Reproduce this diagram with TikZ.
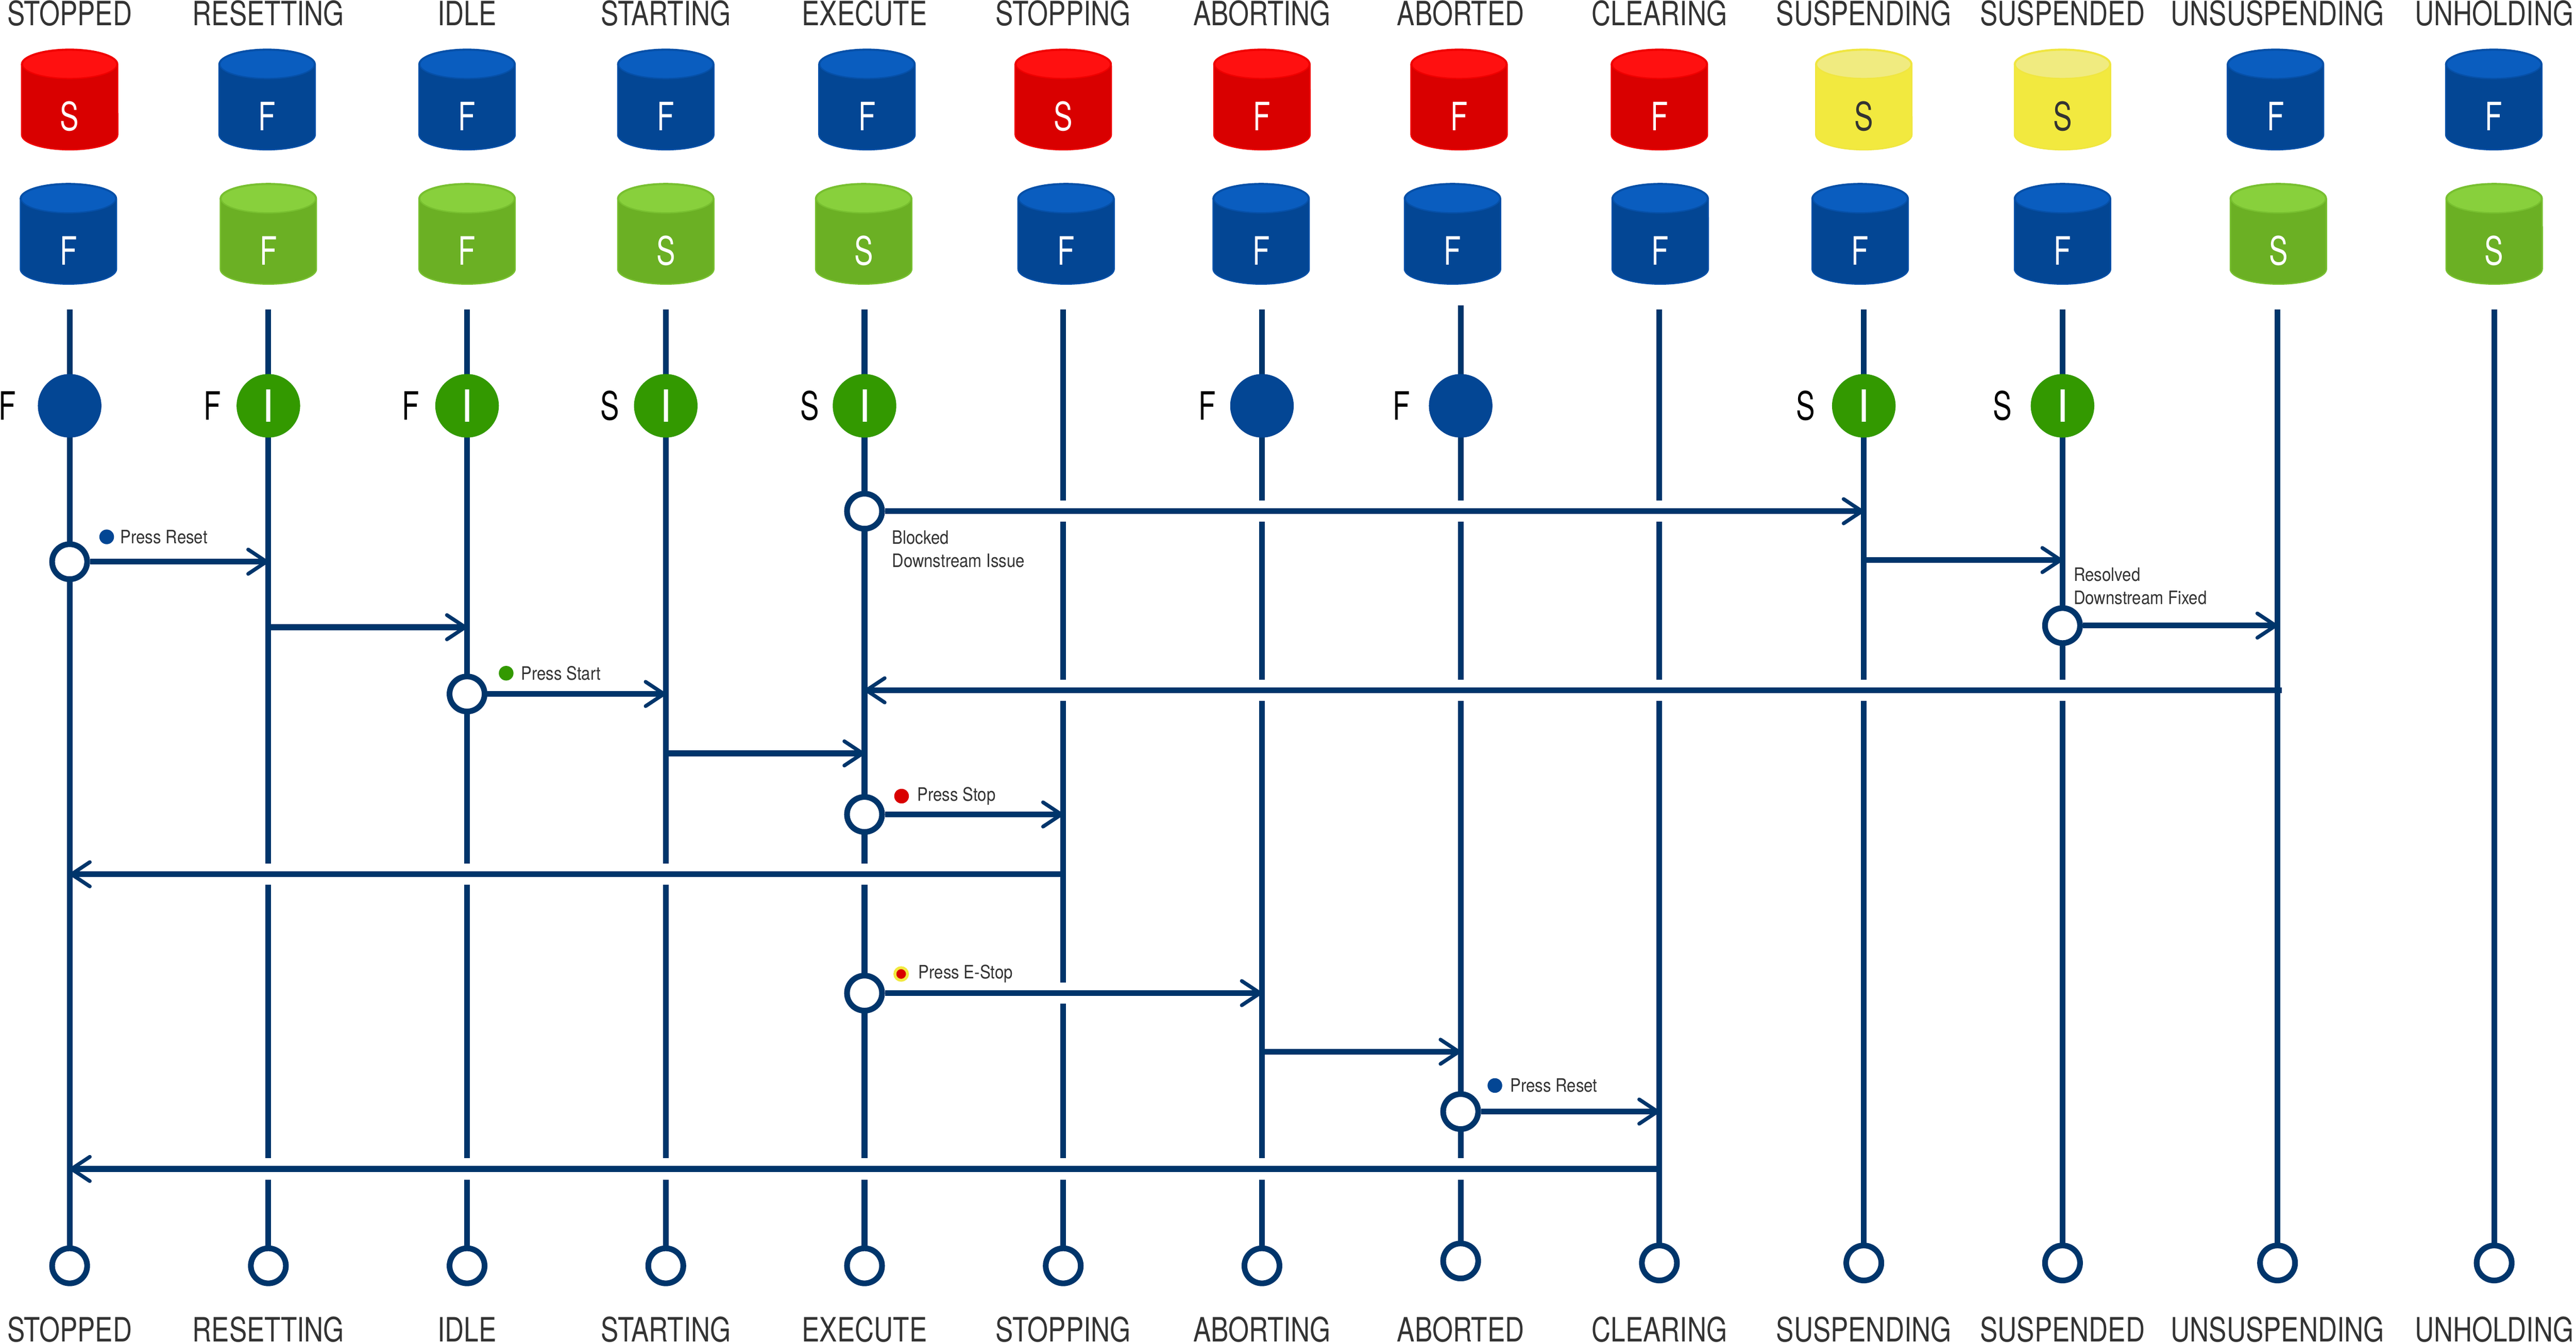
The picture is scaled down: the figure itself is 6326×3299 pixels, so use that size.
\documentclass[tikz,border=0pt]{standalone}
\usepackage{fontspec}
\usetikzlibrary{arrows.meta}
\setmainfont{TeX Gyre Heros}
\newfontfamily\labfont[FakeStretch=0.79]{TeX Gyre Heros}
\newfontfamily\letfont[FakeStretch=0.72]{TeX Gyre Heros}
\newfontfamily\notefont[FakeStretch=0.87]{TeX Gyre Heros}
\definecolor{navy}{HTML}{00356B}
\definecolor{txt}{HTML}{333333}
\definecolor{stateblue}{HTML}{034694}
\definecolor{stategreen}{HTML}{339900}
\definecolor{dotred}{HTML}{D90000}
\definecolor{doty}{HTML}{F2E93F}
\definecolor{bluBody}{HTML}{034694}\definecolor{bluTop}{HTML}{0A5DBF}\definecolor{bluEdge}{HTML}{0650A8}
\definecolor{redBody}{HTML}{D90000}\definecolor{redTop}{HTML}{FF1010}\definecolor{redEdge}{HTML}{F00000}
\definecolor{grnBody}{HTML}{6BB024}\definecolor{grnTop}{HTML}{88D03C}\definecolor{grnEdge}{HTML}{78C030}
\definecolor{yelBody}{HTML}{F2E93F}\definecolor{yelTop}{HTML}{F0EB80}\definecolor{yelEdge}{HTML}{F0E640}
\pgfdeclarelayer{lines}
\pgfsetlayers{lines,main}
\tikzset{
  statelabel/.style={font=\labfont\fontsize{23.4}{26}\selectfont,text=txt,inner sep=0pt,anchor=base},
  cylletter/.style={font=\letfont\fontsize{27.3}{30}\selectfont,inner sep=0pt,anchor=base},
  sideletter/.style={font=\letfont\fontsize{27.3}{30}\selectfont,text=black,inner sep=0pt,anchor=base},
  statedot/.style={circle,inner sep=0pt,minimum size=1.56cm,text=white,font=\fontsize{31}{34}\selectfont},
  ring/.style={circle,draw=navy,fill=white,line width=1.4mm,inner sep=0pt,minimum size=.86cm},
  life/.style={draw=navy,line width=1.4mm},
  halo/.style={draw=white,line width=5.2mm,shorten <=3mm,shorten >=3mm},
  flow/.style={draw=navy,line width=1.4mm,-{Straight Barb[length=12.8pt,width=17pt,line width=2.6pt,round]}},
  note/.style={font=\notefont\fontsize{12.9}{16.5}\selectfont,text=txt,inner sep=0pt,anchor=west,align=left},
  btn/.style={circle,inner sep=0pt,minimum size=.36cm}
}
\newcommand{\Cyl}[6]{%
  \begin{scope}[shift={(#2,#3)}]
    \path[draw=#4Edge,fill=#4Body,line width=.9pt] (-118,37) -- (-118,210)
      arc[x radius=1.18cm,y radius=.37cm,start angle=180,end angle=360] -- (118,37)
      arc[x radius=1.18cm,y radius=.37cm,start angle=0,end angle=180] -- cycle;
    \path[draw=#4Edge,fill=#4Top,line width=.9pt] (0,37) ellipse[x radius=1.16cm,y radius=.35cm];
    \node[cylletter,text=#6] (#1) at (0,200) {#5};
  \end{scope}}
\newcommand{\Flow}[2]{\draw[halo] (#1) -- (#2); \draw[flow] (#1) -- (#2);}
\begin{document}
\begin{tikzpicture}[x=0.01cm,y=-0.01cm]
\useasboundingbox (0,0) rectangle (6326,3299);
\begin{pgfonlayer}{lines}
\fill[white] (0,0) rectangle (6326,3299);
\end{pgfonlayer}

% header and footer labels, lifeline tops and bottom rings
\foreach \n/\x/\yt/\yb/\t in {1/171/760/3110/STOPPED,2/659/760/3110/RESETTING,3/1147/760/3110/IDLE,4/1635/760/3110/STARTING,5/2123/760/3110/EXECUTE,6/2611/760/3110/STOPPING,7/3099/760/3110/ABORTING,8/3587/750/3098/ABORTED,9/4075/760/3103/CLEARING,10/4577/760/3103/SUSPENDING,11/5065/760/3103/SUSPENDED,12/5593/760/3103/UNSUSPENDING,13/6125/760/3103/UNHOLDING}{
  \node[statelabel] (head\n) at (\x,62) {\t};
  \node[statelabel] (foot\n) at (\x,3296) {\t};
  \coordinate (top\n) at (\x,\yt);
  \node[ring] (end\n) at (\x,\yb) {};
  \begin{pgfonlayer}{lines}
    \draw[life] (top\n) -- (end\n.center);
  \end{pgfonlayer}
}

% top row of cylinders
\Cyl{ca1}{171}{121}{red}{S}{white}
\Cyl{ca2}{656}{121}{blu}{F}{white}
\Cyl{ca3}{1147}{121}{blu}{F}{white}
\Cyl{ca4}{1635}{121}{blu}{F}{white}
\Cyl{ca5}{2129}{121}{blu}{F}{white}
\Cyl{ca6}{2611}{121}{red}{S}{white}
\Cyl{ca7}{3099}{121}{red}{F}{white}
\Cyl{ca8}{3583}{121}{red}{F}{white}
\Cyl{ca9}{4075}{121}{red}{F}{white}
\Cyl{ca10}{4577}{121}{yel}{S}{txt}
\Cyl{ca11}{5065}{121}{yel}{S}{txt}
\Cyl{ca12}{5588}{121}{blu}{F}{white}
\Cyl{ca13}{6124}{121}{blu}{F}{white}
% second row of cylinders
\Cyl{cb1}{168}{451}{blu}{F}{white}
\Cyl{cb2}{659}{451}{grn}{F}{white}
\Cyl{cb3}{1147}{451}{grn}{F}{white}
\Cyl{cb4}{1635}{451}{grn}{S}{white}
\Cyl{cb5}{2121}{451}{grn}{S}{white}
\Cyl{cb6}{2618}{451}{blu}{F}{white}
\Cyl{cb7}{3097}{451}{blu}{F}{white}
\Cyl{cb8}{3567}{451}{blu}{F}{white}
\Cyl{cb9}{4077}{451}{blu}{F}{white}
\Cyl{cb10}{4568}{451}{blu}{F}{white}
\Cyl{cb11}{5065}{451}{blu}{F}{white}
\Cyl{cb12}{5595}{451}{grn}{S}{white}
\Cyl{cb13}{6125}{451}{grn}{S}{white}

% state circles with side letters
\foreach \n/\x/\c/\i/\sx/\s in {1/171/stateblue//18/F,2/659/stategreen/I/521/F,3/1147/stategreen/I/1009/F,4/1635/stategreen/I/1497/S,5/2123/stategreen/I/1989/S,7/3099/stateblue//2965/F,8/3587/stateblue//3441/F,10/4577/stategreen/I/4434/S,11/5065/stategreen/I/4918/S}{
  \node[statedot,fill=\c] (st\n) at (\x,997) {\i};
  \node[sideletter] (side\n) at (\sx,1032) {\s};
}

% rings on lifelines
\node[ring] (rBlocked) at (2123,1256) {};
\node[ring] (rReset) at (171,1380) {};
\node[ring] (rResolved) at (5065,1537) {};
\node[ring] (rStart) at (1147,1705) {};
\node[ring] (rStop) at (2123,2001) {};
\node[ring] (rEStop) at (2123,2440) {};
\node[ring] (rReset2) at (3587,2731) {};

% connector end points
\coordinate (eBlocked) at (4577,1256);
\coordinate (sSusp) at (4577,1376);
\coordinate (eSusp) at (5065,1376);
\coordinate (eResolved) at (5593,1537);
\coordinate (sUnsusp) at (5603,1696);
\coordinate (eUnsusp) at (2123,1696);
\coordinate (eReset) at (659,1380);
\coordinate (sResetting) at (659,1541);
\coordinate (eResetting) at (1147,1541);
\coordinate (eStart) at (1635,1705);
\coordinate (sStarting) at (1635,1851);
\coordinate (eStarting) at (2123,1851);
\coordinate (eStop) at (2611,2001);
\coordinate (sStopping) at (2611,2148);
\coordinate (eStopping) at (171,2148);
\coordinate (eEStop) at (3099,2440);
\coordinate (sAborting) at (3099,2584);
\coordinate (eAborting) at (3587,2584);
\coordinate (eReset2) at (4075,2731);
\coordinate (sClearing) at (4075,2872);
\coordinate (eClearing) at (171,2872);

\begin{pgfonlayer}{lines}
\Flow{rBlocked}{eBlocked}
\Flow{sSusp}{eSusp}
\Flow{rResolved}{eResolved}
\Flow{sUnsusp}{eUnsusp}
\Flow{rReset}{eReset}
\Flow{sResetting}{eResetting}
\Flow{rStart}{eStart}
\Flow{sStarting}{eStarting}
\Flow{rStop}{eStop}
\Flow{sStopping}{eStopping}
\Flow{rEStop}{eEStop}
\Flow{sAborting}{eAborting}
\Flow{rReset2}{eReset2}
\Flow{sClearing}{eClearing}
\end{pgfonlayer}

% button marks and notes
\node[btn,fill=stateblue] (mReset) at (262,1319) {};
\node[note] (nReset) at (295,1319) {Press Reset};
\node[btn,fill=stategreen] (mStart) at (1243,1654) {};
\node[note] (nStart) at (1279,1654) {Press Start};
\node[btn,fill=dotred] (mStop) at (2214,1956) {};
\node[note] (nStop) at (2252,1956) {Press Stop};
\node[circle,inner sep=0pt,minimum size=.31cm,fill=dotred,draw=doty,line width=.7mm] (mEStop) at (2213,2393) {};
\node[note] (nEStop) at (2255,2392) {Press E-Stop};
\node[btn,fill=stateblue] (mReset2) at (3671,2667) {};
\node[note] (nReset2) at (3708,2667) {Press Reset};
\node[note] (nBlocked) at (2190,1349) {Blocked\\Downstream Issue};
\node[note] (nResolved) at (5092,1440) {Resolved\\Downstream Fixed};
\end{tikzpicture}
\end{document}
